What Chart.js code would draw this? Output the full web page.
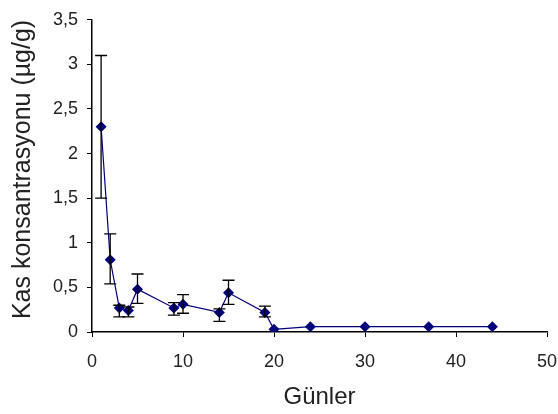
<!DOCTYPE html>
<html lang="tr">
<head>
  <meta charset="UTF-8" />
  <title>Kas konsantrasyonu</title>
  <script src="https://cdn.jsdelivr.net/npm/chart.js"></script>
  <style>
    html, body { margin: 0; padding: 0; background: #fff; }
    #wrap { width: 558px; height: 414px; }
  </style>
</head>
<body>
  <div id="wrap"><canvas id="grafik" width="558" height="414"></canvas></div>

  <script>
    // Veriler
    const gunler = [1, 2, 3, 4, 5, 9, 10, 14, 15, 19, 20, 24, 30, 37, 44];
    const konsantrasyon = [2.3, 0.81, 0.27, 0.24, 0.48, 0.27, 0.31, 0.22, 0.44, 0.22, 0.03, 0.06, 0.06, 0.06, 0.06];
    const hataUst = [3.1, 1.1, 0.3, 0.28, 0.65, 0.33, 0.42, 0.26, 0.58, 0.29, null, null, null, null, null];
    const hataAlt = [1.5, 0.54, 0.17, 0.17, 0.32, 0.19, 0.21, 0.12, 0.31, 0.17, null, null, null, null, null];
    const xTicks = [0, 10, 20, 30, 40, 50];

    const lacivert = '#00007a';

    // Hata çubukları
    const hataCubugu = {
      id: 'hataCubugu',
      afterDatasetsDraw(chart) {
        const ctx = chart.ctx;
        const xs = chart.scales.x, ys = chart.scales.y;
        ctx.save();
        ctx.strokeStyle = '#000';
        ctx.lineWidth = 1.3;
        gunler.forEach((g, i) => {
          if (hataUst[i] == null) return;
          const x = xs.getPixelForValue(g);
          const y1 = ys.getPixelForValue(hataUst[i]);
          const y2 = ys.getPixelForValue(hataAlt[i]);
          ctx.beginPath();
          ctx.moveTo(x, y1); ctx.lineTo(x, y2);
          ctx.moveTo(x - 6, y1); ctx.lineTo(x + 6, y1);
          ctx.moveTo(x - 6, y2); ctx.lineTo(x + 6, y2);
          ctx.stroke();
        });
        ctx.restore();
      }
    };

    const ctx = document.getElementById('grafik').getContext('2d');
    new Chart(ctx, {
      type: 'line',
      data: {
        datasets: [{
          data: gunler.map((g, i) => ({ x: g, y: konsantrasyon[i] })),
          borderColor: lacivert,
          borderWidth: 1.2,
          backgroundColor: lacivert,
          pointStyle: 'rectRot',
          pointRadius: 5.5,
          pointBorderWidth: 0,
          tension: 0
        }]
      },
      options: {
        responsive: false,
        animation: false,
        layout: { padding: { top: 17, right: 0, left: 0, bottom: 0 } },
        plugins: { legend: { display: false }, tooltip: { enabled: false } },
        scales: {
          x: {
            type: 'linear',
            min: 0, max: 50,
            afterFit: s => { s.height = 82; s.paddingRight = 11; },
            afterBuildTicks: s => { s.ticks = xTicks.map(v => ({ value: v })); },
            grid: { drawOnChartArea: false, drawTicks: true, tickLength: 5, color: '#000' },
            border: { color: '#000', width: 1.5 },
            ticks: { color: '#222', font: { family: 'Liberation Sans, Arial', size: 18 }, padding: 14 },
            title: { display: true, text: 'Günler', color: '#222', font: { family: 'Liberation Sans, Arial', size: 24 }, padding: { top: 0, bottom: 2 } }
          },
          y: {
            min: 0, max: 3.5,
            afterFit: s => { s.width = 92; },
            grid: { drawOnChartArea: false, drawTicks: true, tickLength: 5, color: '#000' },
            border: { color: '#000', width: 1.5 },
            ticks: {
              stepSize: 0.5,
              color: '#222',
              font: { family: 'Liberation Sans, Arial', size: 18 },
              padding: 9,
              callback: v => String(v).replace('.', ',')
            },
            title: { display: true, text: 'Kas konsantrasyonu (µg/g)', color: '#222', align: 'end', font: { family: 'Liberation Sans, Arial', size: 25 }, padding: { top: 8, bottom: 0 } }
          }
        }
      },
      plugins: [hataCubugu]
    });
  </script>
</body>
</html>
